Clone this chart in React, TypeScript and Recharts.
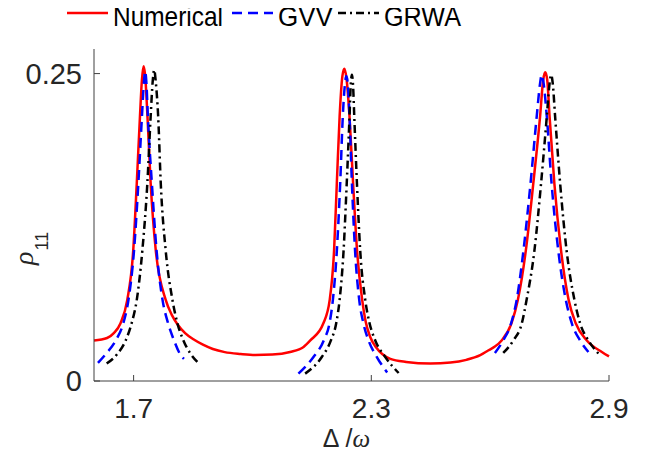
import React from 'react';
import { LineChart, Line, XAxis, YAxis, Legend } from 'recharts';

// detuning (x) and populations (y)
const numericalDelta = [1.6, 1.633, 1.65, 1.667, 1.684, 1.699, 1.708, 1.716, 1.721, 1.725, 1.729, 1.735, 1.743, 1.756, 1.781, 1.796, 1.811, 1.83, 1.853, 1.875, 1.9, 1.93, 1.97, 2.007, 2.05, 2.095, 2.129, 2.146, 2.179, 2.195, 2.206, 2.213, 2.22, 2.227, 2.232, 2.237, 2.245, 2.254, 2.264, 2.277, 2.286, 2.297, 2.313, 2.348, 2.388, 2.449, 2.5, 2.54, 2.575, 2.596, 2.612, 2.629, 2.654, 2.67, 2.69, 2.709, 2.726, 2.734, 2.739, 2.744, 2.75, 2.762, 2.779, 2.798, 2.816, 2.844, 2.882, 2.9];
const numericalRho = [0.033, 0.035, 0.039, 0.047, 0.066, 0.106, 0.161, 0.215, 0.245, 0.256, 0.249, 0.215, 0.161, 0.106, 0.066, 0.054, 0.046, 0.039, 0.0335, 0.0295, 0.026, 0.0235, 0.022, 0.0212, 0.0215, 0.0236, 0.0277, 0.033, 0.047, 0.066, 0.106, 0.161, 0.215, 0.248, 0.254, 0.247, 0.215, 0.161, 0.106, 0.066, 0.048, 0.036, 0.027, 0.018, 0.0155, 0.0142, 0.015, 0.0172, 0.021, 0.025, 0.028, 0.033, 0.047, 0.066, 0.106, 0.161, 0.215, 0.245, 0.251, 0.245, 0.215, 0.161, 0.106, 0.066, 0.047, 0.033, 0.0236, 0.02];

const gvv1Delta = [1.61, 1.63, 1.655, 1.674, 1.687, 1.701, 1.712, 1.721, 1.726, 1.729, 1.732, 1.736, 1.746, 1.758, 1.773, 1.787, 1.802, 1.817, 1.827];
const gvv1Rho = [0.0147, 0.022, 0.033, 0.047, 0.066, 0.106, 0.161, 0.215, 0.243, 0.252, 0.244, 0.215, 0.161, 0.106, 0.066, 0.047, 0.033, 0.022, 0.018];
const gvv2Delta = [2.116, 2.154, 2.18, 2.1945, 2.203, 2.213, 2.2215, 2.228, 2.233, 2.237, 2.241, 2.245, 2.251, 2.259, 2.2695, 2.28, 2.293, 2.314, 2.34];
const gvv2Rho = [0.006, 0.0195, 0.033, 0.047, 0.066, 0.106, 0.161, 0.215, 0.24, 0.248, 0.24, 0.215, 0.161, 0.106, 0.066, 0.047, 0.033, 0.0195, 0.007];
const gvv3Delta = [2.612, 2.633, 2.653, 2.667, 2.684, 2.702, 2.7175, 2.726, 2.73, 2.735, 2.743, 2.755, 2.772, 2.791, 2.806, 2.827, 2.848];
const gvv3Rho = [0.0228, 0.033, 0.047, 0.066, 0.106, 0.161, 0.215, 0.242, 0.249, 0.242, 0.215, 0.161, 0.106, 0.066, 0.047, 0.033, 0.0236];

const grwa1Delta = [1.632, 1.659, 1.68, 1.695, 1.708, 1.722, 1.7347, 1.743, 1.748, 1.752, 1.756, 1.762, 1.7685, 1.781, 1.798, 1.8105, 1.8257, 1.844, 1.865];
const grwa1Rho = [0.0142, 0.022, 0.033, 0.047, 0.066, 0.106, 0.161, 0.215, 0.243, 0.253, 0.243, 0.215, 0.161, 0.106, 0.066, 0.047, 0.033, 0.022, 0.0142];
const grwa2Delta = [2.133, 2.175, 2.198, 2.2114, 2.22, 2.23, 2.238, 2.245, 2.248, 2.251, 2.254, 2.257, 2.2637, 2.272, 2.2847, 2.2956, 2.31, 2.3352, 2.369];
const grwa2Rho = [0.006, 0.0195, 0.033, 0.047, 0.066, 0.106, 0.161, 0.215, 0.24, 0.249, 0.24, 0.215, 0.161, 0.106, 0.066, 0.047, 0.033, 0.0195, 0.0065];
const grwa3Delta = [2.633, 2.6586, 2.68, 2.692, 2.7117, 2.7286, 2.743, 2.75, 2.754, 2.758, 2.764, 2.7766, 2.793, 2.8127, 2.827, 2.848, 2.8734];
const grwa3Rho = [0.0228, 0.033, 0.047, 0.066, 0.106, 0.161, 0.215, 0.242, 0.249, 0.242, 0.215, 0.161, 0.106, 0.066, 0.047, 0.033, 0.0223];

const xTicks = [1.7, 2.3, 2.9];
const yTicks = [0, 0.25];

const toRows = (xs: number[], ys: number[]) => xs.map((x, i) => ({ x, y: ys[i] }));
// segments joined by a null row so the line breaks between peaks
const joinSegments = (...segs: { x: number; y: number | null }[][]) =>
  segs.flatMap((s, i) => (i < segs.length - 1 ? [...s, { x: (s[s.length - 1].x + segs[i + 1][0].x) / 2, y: null }] : s));

const numericalData = toRows(numericalDelta, numericalRho);
const gvvData = joinSegments(toRows(gvv1Delta, gvv1Rho), toRows(gvv2Delta, gvv2Rho), toRows(gvv3Delta, gvv3Rho));
const grwaData = joinSegments(toRows(grwa1Delta, grwa1Rho), toRows(grwa2Delta, grwa2Rho), toRows(grwa3Delta, grwa3Rho));

const AXIS = '#404040';
const TEXT = '#262626';
const FONT = '"Liberation Sans", Arial, sans-serif';
const TICK_LEN = 6;

const BottomTick = ({ x, y, payload }: any) => (
  <g>
    <line x1={x} y1={y} x2={x} y2={y - TICK_LEN} stroke={AXIS} />
    <text x={x} y={y + 37} textAnchor="middle" fontFamily={FONT} fontSize={28} fill={TEXT}>
      {payload.value}
    </text>
  </g>
);
const TopTick = ({ x, y }: any) => <line x1={x} y1={y} x2={x} y2={y + TICK_LEN} stroke={AXIS} />;
const LeftTick = ({ x, y, payload }: any) => (
  <g>
    <line x1={x} y1={y} x2={x + TICK_LEN} y2={y} stroke={AXIS} />
    <text x={x - 12} y={y + 10} textAnchor="end" fontFamily={FONT} fontSize={29} fill={TEXT}>
      {payload.value}
    </text>
  </g>
);
const RightTick = ({ x, y }: any) => <line x1={x} y1={y} x2={x - TICK_LEN} y2={y} stroke={AXIS} />;

const XTitle = ({ viewBox }: any) => (
  <text x={viewBox.x + viewBox.width / 2 - 5} y={viewBox.y + 66} textAnchor="middle" fontFamily={FONT} fontSize={25} fill={TEXT}>
    Δ<tspan dx={6}>/</tspan>
    <tspan fontStyle="italic" fontFamily='"Liberation Serif", serif'>ω</tspan>
  </text>
);
const YTitle = ({ viewBox }: any) => (
  <text transform={`translate(${viewBox.x + 25} ${viewBox.y + 216}) rotate(-90)`} fontFamily={FONT} fill={TEXT}>
    <tspan fontStyle="italic" fontFamily='"Liberation Serif", serif' fontSize={28}>ρ</tspan>
    <tspan fontSize={18} dy={15} dx={1}>11</tspan>
  </text>
);

const legendItems = [
  { name: 'Numerical', color: '#ff0000', dash: undefined, x: 67, textW: 110 },
  { name: 'GVV', color: '#0000ff', dash: '10 6', x: 232, textW: 55 },
  { name: 'GRWA', color: '#000000', dash: '8 4 2 4', x: 338, textW: 77 },
];

// legend drawn in page pixels (its wrapper is moved to the page corner)
const LegendBox = () => (
  <svg width={662} height={34} style={{ display: 'block', overflow: 'visible' }}>
    {legendItems.map((it) => (
      <g key={it.name}>
        <line x1={it.x} x2={it.x + 41} y1={13} y2={13} stroke={it.color} strokeWidth={2.5} strokeDasharray={it.dash} />
        <text x={it.x + 46} y={26} fontFamily={FONT} fontSize={28} fill="#000" textLength={it.textW} lengthAdjust="spacingAndGlyphs">
          {it.name}
        </text>
      </g>
    ))}
  </svg>
);

export default function App() {
  return (
    <LineChart width={646} height={445} margin={{ top: 41, right: 45, bottom: 0, left: 0 }}>
      <XAxis xAxisId={0} dataKey="x" type="number" domain={[1.6, 2.9]} ticks={xTicks} interval={0}
        height={72} tickSize={0} tickMargin={0} tickLine={false} axisLine={{ stroke: AXIS }}
        tick={BottomTick} label={XTitle} />
      <XAxis xAxisId="top" orientation="top" dataKey="x" type="number" domain={[1.6, 2.9]} ticks={xTicks} interval={0}
        height={0} tickSize={0} tickMargin={0} tickLine={false} axisLine={{ stroke: AXIS }} tick={TopTick} />
      <YAxis yAxisId={0} type="number" domain={[0, 0.27]} ticks={yTicks} interval={0}
        width={86} tickSize={0} tickMargin={0} tickLine={false} axisLine={{ stroke: AXIS }}
        tick={LeftTick} label={YTitle} />
      <YAxis yAxisId="right" orientation="right" type="number" domain={[0, 0.27]} ticks={yTicks} interval={0}
        width={0} tickSize={0} tickMargin={0} tickLine={false} axisLine={{ stroke: AXIS }} tick={RightTick} />
      <Legend layout="horizontal" verticalAlign="middle" align="center" content={LegendBox}
        wrapperStyle={{ top: -8, left: -8, width: 662, height: 34 }} />
      <Line data={numericalData} dataKey="y" name="Numerical" type="monotone" stroke="#ff0000" strokeWidth={2.5}
        dot={false} isAnimationActive={false} />
      <Line data={gvvData} dataKey="y" name="GVV" type="monotone" stroke="#0000ff" strokeWidth={2.5}
        strokeDasharray="10 6" dot={false} isAnimationActive={false} />
      <Line data={grwaData} dataKey="y" name="GRWA" type="monotone" stroke="#000000" strokeWidth={2.5}
        strokeDasharray="8 4 2 4" dot={false} isAnimationActive={false} />
    </LineChart>
  );
}
